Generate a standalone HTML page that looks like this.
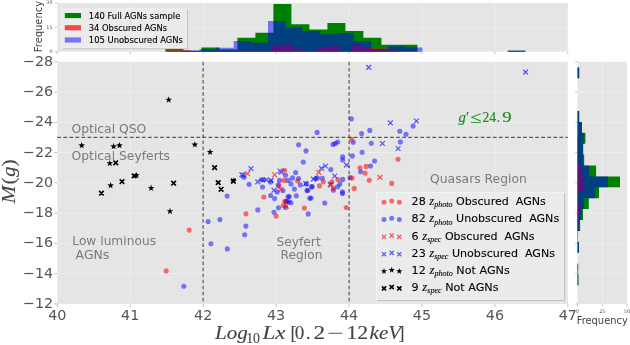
<!DOCTYPE html>
<html lang="en"><head><meta charset="utf-8"><title>AGN luminosity plot</title>
<style>
html,body{margin:0;padding:0;background:#fff;}
body{width:630px;height:345px;overflow:hidden;}
svg{display:block;}
</style></head>
<body>
<svg width="630" height="345" viewBox="0 0 630 345">
<rect x="57.3" y="61.8" width="510.5" height="242.1" fill="#e5e5e5"/>
<rect x="57.3" y="3.0" width="510.5" height="48.7" fill="#e5e5e5"/>
<rect x="577.5" y="61.8" width="49.5" height="242.1" fill="#e5e5e5"/>
<path d="M130.2 61.8V303.9M130.2 3.0V51.7M203.2 61.8V303.9M203.2 3.0V51.7M276.1 61.8V303.9M276.1 3.0V51.7M349.0 61.8V303.9M349.0 3.0V51.7M421.9 61.8V303.9M421.9 3.0V51.7M494.9 61.8V303.9M494.9 3.0V51.7M57.3 92.1H567.8M577.5 92.1H627.0M57.3 122.3H567.8M577.5 122.3H627.0M57.3 152.6H567.8M577.5 152.6H627.0M57.3 182.8H567.8M577.5 182.8H627.0M57.3 213.1H567.8M577.5 213.1H627.0M57.3 243.4H567.8M577.5 243.4H627.0M57.3 273.6H567.8M577.5 273.6H627.0M57.3 27.3H567.8M602.3 61.8V303.9" stroke="#fff" stroke-width="0.7" opacity="0.48" fill="none"/>
<path d="M165.4 51.7V49.0H183.4V50.7H201.4V47.5H219.4V49.4H237.4V37.8H255.4V32.7H273.4V4.0H291.4V24.2H309.4V29.5H327.4V23.1H345.4V31.1H363.4V37.8H381.4V44.7H399.4V44.7H417.4V51.7H435.4V51.7H453.4V51.7H471.4V51.7H489.4V51.7H507.4V50.7H525.4V51.7Z" fill="#008000"/>
<path d="M167.0 51.7V50.3H178.5V50.3H190.1V51.0H201.6V51.0H213.1V51.0H224.7V51.0H236.2V50.8H247.7V50.8H259.2V50.8H270.8V46.3H282.3V44.7H293.8V49.4H305.4V50.9H316.9V47.8H328.4V46.3H339.9V50.9H351.5V45.9H363.0V47.6H374.5V48.5H386.1V49.6H397.6V51.7Z" fill="#ff0000" fill-opacity="0.7"/>
<path d="M182.2 51.7V50.5H199.4V49.3H216.5V47.8H233.7V41.1H250.8V42.7H268.0V21.0H285.2V27.6H302.3V31.1H319.5V34.3H336.6V33.0H353.8V41.0H371.0V49.0H388.1V46.3H405.3V47.5H422.4V51.7H439.6V51.7H456.8V51.7H473.9V51.7H491.1V51.7H508.2V50.5H525.4V51.7Z" fill="#0000ff" fill-opacity="0.5"/>
<path d="M577.5 67.4H579.2V78.3H577.5V89.2H577.5V100.1H577.5V111.0H579.2V121.9H582.0V132.8H585.4V143.7H583.2V154.6H584.2V165.5H596.1V176.4H620.0V187.3H599.0V198.2H588.8V209.1H583.0V220.0H580.1V230.9H577.5V241.8H579.0V252.7H577.5V263.6H578.2V274.5H578.4V285.4H577.5Z" fill="#008000"/>
<path d="M577.5 138.2H578.1V144.8H577.9V151.4H577.9V158.1H578.1V164.7H581.3V171.3H581.3V177.9H584.0V184.5H583.0V191.2H578.2V197.8H578.2V204.4H580.9V211.0H579.4V217.6H578.2V224.3H577.9V230.9H577.9V237.5H577.5V244.1H577.5V250.7H577.5V257.4H577.5V264.0H578.1V270.6H577.5Z" fill="#ff0000" fill-opacity="0.7"/>
<path d="M577.5 67.4H579.2V78.3H577.5V89.2H577.5V100.1H577.5V111.0H579.2V121.9H581.9V132.8H583.8V143.7H583.0V154.6H583.3V165.5H589.1V176.4H608.0V187.3H595.4V198.2H584.2V209.1H581.3V220.0H579.4V230.9H578.1V241.8H579.0V252.7H577.5V263.6H577.5V274.5H578.4V285.4H577.5Z" fill="#0000ff" fill-opacity="0.5"/>
<path d="M57.3 137.3H567.8M203.1 61.8V303.9M349.1 61.8V303.9" stroke="#262626" stroke-width="0.9" stroke-dasharray="3.7 2.35" fill="none"/>
<text x="71.5" y="132.6" font-size="12.3" fill="#7a7a7a" font-family='"DejaVu Sans", "Liberation Sans", sans-serif' textLength="74.8" lengthAdjust="spacingAndGlyphs">Optical QSO</text>
<text x="71.5" y="159.8" font-size="12.3" fill="#7a7a7a" font-family='"DejaVu Sans", "Liberation Sans", sans-serif' textLength="98.5" lengthAdjust="spacingAndGlyphs">Optical Seyferts</text>
<text x="72.3" y="245.3" font-size="12.3" fill="#7a7a7a" font-family='"DejaVu Sans", "Liberation Sans", sans-serif' textLength="83.7" lengthAdjust="spacingAndGlyphs">Low luminous</text>
<text x="75.6" y="259.0" font-size="12.3" fill="#7a7a7a" font-family='"DejaVu Sans", "Liberation Sans", sans-serif' textLength="33.7" lengthAdjust="spacingAndGlyphs">AGNs</text>
<text x="276.5" y="245.6" font-size="12.3" fill="#7a7a7a" font-family='"DejaVu Sans", "Liberation Sans", sans-serif' textLength="44.2" lengthAdjust="spacingAndGlyphs">Seyfert</text>
<text x="280.6" y="258.9" font-size="12.3" fill="#7a7a7a" font-family='"DejaVu Sans", "Liberation Sans", sans-serif' textLength="41.8" lengthAdjust="spacingAndGlyphs">Region</text>
<text x="430.0" y="183.0" font-size="12.3" fill="#7a7a7a" font-family='"DejaVu Sans", "Liberation Sans", sans-serif' textLength="96.9" lengthAdjust="spacingAndGlyphs">Quasars Region</text>
<g fill="#0000ff" fill-opacity="0.5"><circle cx="351.3" cy="118.9" r="2.55"/><circle cx="317.1" cy="132.4" r="2.55"/><circle cx="298.6" cy="144.7" r="2.55"/><circle cx="333.0" cy="144.4" r="2.55"/><circle cx="335.3" cy="143.5" r="2.55"/><circle cx="337.7" cy="142.0" r="2.55"/><circle cx="353.2" cy="142.3" r="2.55"/><circle cx="361.6" cy="133.5" r="2.55"/><circle cx="369.8" cy="130.4" r="2.55"/><circle cx="371.3" cy="143.2" r="2.55"/><circle cx="306.0" cy="150.9" r="2.55"/><circle cx="362.1" cy="152.2" r="2.55"/><circle cx="352.3" cy="155.9" r="2.55"/><circle cx="342.7" cy="156.9" r="2.55"/><circle cx="342.7" cy="160.0" r="2.55"/><circle cx="303.2" cy="162.0" r="2.55"/><circle cx="374.6" cy="161.0" r="2.55"/><circle cx="330.8" cy="169.6" r="2.55"/><circle cx="370.5" cy="166.0" r="2.55"/><circle cx="360.6" cy="171.7" r="2.55"/><circle cx="350.1" cy="177.5" r="2.55"/><circle cx="342.7" cy="179.4" r="2.55"/><circle cx="315.8" cy="178.6" r="2.55"/><circle cx="317.4" cy="177.9" r="2.55"/><circle cx="322.3" cy="178.2" r="2.55"/><circle cx="339.9" cy="183.9" r="2.55"/><circle cx="337.6" cy="186.8" r="2.55"/><circle cx="333.4" cy="190.2" r="2.55"/><circle cx="312.1" cy="186.5" r="2.55"/><circle cx="311.7" cy="186.9" r="2.55"/><circle cx="307.0" cy="190.6" r="2.55"/><circle cx="307.8" cy="190.2" r="2.55"/><circle cx="342.5" cy="191.9" r="2.55"/><circle cx="342.5" cy="193.6" r="2.55"/><circle cx="311.1" cy="198.1" r="2.55"/><circle cx="324.8" cy="203.0" r="2.55"/><circle cx="308.2" cy="213.9" r="2.55"/><circle cx="309.7" cy="198.3" r="2.55"/><circle cx="244.0" cy="177.2" r="2.55"/><circle cx="249.1" cy="184.2" r="2.55"/><circle cx="261.3" cy="179.8" r="2.55"/><circle cx="263.4" cy="179.8" r="2.55"/><circle cx="270.6" cy="181.9" r="2.55"/><circle cx="285.5" cy="175.3" r="2.55"/><circle cx="295.7" cy="172.5" r="2.55"/><circle cx="292.5" cy="177.9" r="2.55"/><circle cx="298.6" cy="178.5" r="2.55"/><circle cx="279.5" cy="180.4" r="2.55"/><circle cx="288.0" cy="180.4" r="2.55"/><circle cx="291.0" cy="183.9" r="2.55"/><circle cx="300.4" cy="184.9" r="2.55"/><circle cx="306.5" cy="183.9" r="2.55"/><circle cx="262.5" cy="187.0" r="2.55"/><circle cx="278.2" cy="184.9" r="2.55"/><circle cx="282.9" cy="190.6" r="2.55"/><circle cx="277.2" cy="191.9" r="2.55"/><circle cx="294.4" cy="189.1" r="2.55"/><circle cx="270.6" cy="195.5" r="2.55"/><circle cx="274.6" cy="198.5" r="2.55"/><circle cx="288.0" cy="196.8" r="2.55"/><circle cx="289.3" cy="196.6" r="2.55"/><circle cx="296.3" cy="195.7" r="2.55"/><circle cx="286.1" cy="201.2" r="2.55"/><circle cx="286.5" cy="201.5" r="2.55"/><circle cx="288.8" cy="201.8" r="2.55"/><circle cx="291.0" cy="202.8" r="2.55"/><circle cx="285.5" cy="207.4" r="2.55"/><circle cx="278.5" cy="207.8" r="2.55"/><circle cx="257.8" cy="209.9" r="2.55"/><circle cx="274.0" cy="212.2" r="2.55"/><circle cx="245.9" cy="226.1" r="2.55"/><circle cx="244.7" cy="234.7" r="2.55"/><circle cx="208.1" cy="221.5" r="2.55"/><circle cx="219.9" cy="219.6" r="2.55"/><circle cx="210.9" cy="243.8" r="2.55"/><circle cx="227.3" cy="248.9" r="2.55"/><circle cx="183.8" cy="286.2" r="2.55"/><circle cx="227.1" cy="196.1" r="2.55"/><circle cx="413.1" cy="126.1" r="2.55"/><circle cx="399.8" cy="131.2" r="2.55"/><circle cx="406.0" cy="134.2" r="2.55"/><circle cx="400.4" cy="141.9" r="2.55"/></g>
<g fill="#ff0000" fill-opacity="0.55"><circle cx="351.7" cy="139.3" r="2.55"/><circle cx="360.0" cy="167.8" r="2.55"/><circle cx="366.1" cy="166.4" r="2.55"/><circle cx="365.1" cy="173.1" r="2.55"/><circle cx="369.3" cy="180.2" r="2.55"/><circle cx="352.0" cy="178.1" r="2.55"/><circle cx="337.9" cy="179.5" r="2.55"/><circle cx="323.3" cy="181.7" r="2.55"/><circle cx="331.9" cy="181.9" r="2.55"/><circle cx="333.4" cy="188.3" r="2.55"/><circle cx="319.5" cy="185.9" r="2.55"/><circle cx="354.2" cy="188.4" r="2.55"/><circle cx="346.2" cy="207.5" r="2.55"/><circle cx="304.4" cy="208.0" r="2.55"/><circle cx="284.6" cy="170.2" r="2.55"/><circle cx="297.6" cy="181.0" r="2.55"/><circle cx="284.2" cy="180.4" r="2.55"/><circle cx="279.1" cy="186.1" r="2.55"/><circle cx="263.8" cy="197.0" r="2.55"/><circle cx="284.8" cy="201.3" r="2.55"/><circle cx="283.3" cy="205.5" r="2.55"/><circle cx="245.9" cy="213.8" r="2.55"/><circle cx="276.2" cy="216.1" r="2.55"/><circle cx="398.0" cy="159.2" r="2.55"/><circle cx="391.7" cy="183.4" r="2.55"/><circle cx="189.2" cy="230.1" r="2.55"/><circle cx="166.2" cy="270.9" r="2.55"/></g>
<path d="M366.30 65.00L371.10 69.80M366.30 69.80L371.10 65.00M523.20 69.70L528.00 74.50M523.20 74.50L528.00 69.70M388.00 120.50L392.80 125.30M388.00 125.30L392.80 120.50M414.00 118.60L418.80 123.40M414.00 123.40L418.80 118.60M380.00 141.10L384.80 145.90M380.00 145.90L384.80 141.10M395.70 146.10L400.50 150.90M395.70 150.90L400.50 146.10M344.20 162.70L349.00 167.50M344.20 167.50L349.00 162.70M323.10 163.60L327.90 168.40M323.10 168.40L327.90 163.60M319.00 165.90L323.80 170.70M319.00 170.70L323.80 165.90M332.30 173.60L337.10 178.40M332.30 178.40L337.10 173.60M311.00 176.70L315.80 181.50M311.00 181.50L315.80 176.70M327.80 181.80L332.60 186.60M327.80 186.60L332.60 181.80M303.40 181.20L308.20 186.00M303.40 186.00L308.20 181.20M248.60 166.30L253.40 171.10M248.60 171.10L253.40 166.30M239.50 172.20L244.30 177.00M239.50 177.00L244.30 172.20M240.80 173.00L245.60 177.80M240.80 177.80L245.60 173.00M255.40 179.50L260.20 184.30M255.40 184.30L260.20 179.50M264.00 177.40L268.80 182.20M264.00 182.20L268.80 177.40M268.70 178.00L273.50 182.80M268.70 182.80L273.50 178.00M278.90 169.70L283.70 174.50M278.90 174.50L283.70 169.70M271.60 187.80L276.40 192.60M271.60 192.60L276.40 187.80M277.60 168.60L282.40 173.40M277.60 173.40L282.40 168.60" stroke="#0000ff" stroke-opacity="0.62" stroke-width="1.3" fill="none"/>
<path d="M245.10 171.30L249.90 176.10M245.10 176.10L249.90 171.30M272.20 172.40L277.00 177.20M272.20 177.20L277.00 172.40M278.40 186.90L283.20 191.70M278.40 191.70L283.20 186.90M284.00 203.80L288.80 208.60M284.00 208.60L288.80 203.80M316.40 170.00L321.20 174.80M316.40 174.80L321.20 170.00M328.40 182.80L333.20 187.60M328.40 187.60L333.20 182.80M377.50 175.00L382.30 179.80M377.50 179.80L382.30 175.00" stroke="#ff0000" stroke-opacity="0.62" stroke-width="1.3" fill="none"/>
<path d="M168.70,96.30L169.52,98.67L172.03,98.72L170.03,100.23L170.76,102.63L168.70,101.20L166.64,102.63L167.37,100.23L165.37,98.72L167.88,98.67ZM81.70,142.00L82.52,144.37L85.03,144.42L83.03,145.93L83.76,148.33L81.70,146.90L79.64,148.33L80.37,145.93L78.37,144.42L80.88,144.37ZM113.60,143.00L114.42,145.37L116.93,145.42L114.93,146.93L115.66,149.33L113.60,147.90L111.54,149.33L112.27,146.93L110.27,145.42L112.78,145.37ZM119.50,142.00L120.32,144.37L122.83,144.42L120.83,145.93L121.56,148.33L119.50,146.90L117.44,148.33L118.17,145.93L116.17,144.42L118.68,144.37ZM194.80,141.20L195.62,143.57L198.13,143.62L196.13,145.13L196.86,147.53L194.80,146.10L192.74,147.53L193.47,145.13L191.47,143.62L193.98,143.57ZM210.10,148.60L210.92,150.97L213.43,151.02L211.43,152.53L212.16,154.93L210.10,153.50L208.04,154.93L208.77,152.53L206.77,151.02L209.28,150.97ZM109.80,159.90L110.62,162.27L113.13,162.32L111.13,163.83L111.86,166.23L109.80,164.80L107.74,166.23L108.47,163.83L106.47,162.32L108.98,162.27ZM136.50,171.90L137.32,174.27L139.83,174.32L137.83,175.83L138.56,178.23L136.50,176.80L134.44,178.23L135.17,175.83L133.17,174.32L135.68,174.27ZM110.60,182.00L111.42,184.37L113.93,184.42L111.93,185.93L112.66,188.33L110.60,186.90L108.54,188.33L109.27,185.93L107.27,184.42L109.78,184.37ZM151.10,184.60L151.92,186.97L154.43,187.02L152.43,188.53L153.16,190.93L151.10,189.50L149.04,190.93L149.77,188.53L147.77,187.02L150.28,186.97ZM170.00,207.80L170.82,210.17L173.33,210.22L171.33,211.73L172.06,214.13L170.00,212.70L167.94,214.13L168.67,211.73L166.67,210.22L169.18,210.17ZM233.50,177.60L234.32,179.97L236.83,180.02L234.83,181.53L235.56,183.93L233.50,182.50L231.44,183.93L232.17,181.53L230.17,180.02L232.68,179.97Z" fill="#000"/>
<path d="M113.40 160.50L118.00 165.10M113.40 165.10L118.00 160.50M212.30 165.30L216.90 169.90M212.30 169.90L216.90 165.30M131.90 173.60L136.50 178.20M131.90 178.20L136.50 173.60M119.70 179.40L124.30 184.00M119.70 184.00L124.30 179.40M99.10 190.90L103.70 195.50M99.10 195.50L103.70 190.90M171.30 180.90L175.90 185.50M171.30 185.50L175.90 180.90M215.90 180.30L220.50 184.90M215.90 184.90L220.50 180.30M218.80 187.00L223.40 191.60M218.80 191.60L223.40 187.00M231.00 178.70L235.60 183.30M231.00 183.30L235.60 178.70" stroke="#000" stroke-width="1.7" fill="none"/>
<g font-size="14.8" font-family='"Liberation Serif", "DejaVu Serif", serif' fill="#1a8c1a" stroke="#1a8c1a" stroke-width="0.15"><text x="458.6" y="122.2"><tspan font-style="italic">g</tspan>′</text><text x="469.9" y="122.6" font-size="17" textLength="11.2" lengthAdjust="spacingAndGlyphs">≤</text><text x="482.4" y="122.2" textLength="13.6" lengthAdjust="spacingAndGlyphs">24</text><text x="496.4" y="122.2">.</text><text x="502.3" y="122.2" textLength="9.4" lengthAdjust="spacingAndGlyphs">9</text></g>
<rect x="377.4" y="193.3" width="187.20000000000005" height="107.39999999999998" fill="#a8a8a8"/>
<rect x="376.4" y="192.3" width="187.20000000000005" height="107.39999999999998" fill="#ebebeb" stroke="#f6f6f6" stroke-width="0.8"/>
<g fill="#ff0000" fill-opacity="0.55"><circle cx="384.0" cy="202.3" r="2.5"/><circle cx="391.7" cy="201.0" r="2.5"/><circle cx="399.3" cy="202.3" r="2.5"/></g>
<g fill="#0000ff" fill-opacity="0.5"><circle cx="384.0" cy="219.6" r="2.5"/><circle cx="391.7" cy="218.3" r="2.5"/><circle cx="399.3" cy="219.6" r="2.5"/></g>
<path d="M381.90 234.80L386.10 239.00M381.90 239.00L386.10 234.80M389.60 233.50L393.80 237.70M389.60 237.70L393.80 233.50M397.20 234.80L401.40 239.00M397.20 239.00L401.40 234.80" stroke="#ff0000" stroke-opacity="0.6" stroke-width="1.3" fill="none"/>
<path d="M381.90 252.10L386.10 256.30M381.90 256.30L386.10 252.10M389.60 250.80L393.80 255.00M389.60 255.00L393.80 250.80M397.20 252.10L401.40 256.30M397.20 256.30L401.40 252.10" stroke="#0000ff" stroke-opacity="0.6" stroke-width="1.3" fill="none"/>
<path d="M384.00,268.00L384.76,270.25L387.14,270.28L385.24,271.70L385.94,273.97L384.00,272.60L382.06,273.97L382.76,271.70L380.86,270.28L383.24,270.25ZM391.70,266.70L392.46,268.95L394.84,268.98L392.94,270.40L393.64,272.67L391.70,271.30L389.76,272.67L390.46,270.40L388.56,268.98L390.94,268.95ZM399.30,268.00L400.06,270.25L402.44,270.28L400.54,271.70L401.24,273.97L399.30,272.60L397.36,273.97L398.06,271.70L396.16,270.28L398.54,270.25Z" fill="#000"/>
<path d="M381.90 286.30L386.10 290.50M381.90 290.50L386.10 286.30M389.60 285.00L393.80 289.20M389.60 289.20L393.80 285.00M397.20 286.30L401.40 290.50M397.20 290.50L401.40 286.30" stroke="#000" stroke-opacity="1" stroke-width="1.7" fill="none"/>
<text x="411.6" y="205.0" font-size="11.2" fill="#000" stroke="#000" stroke-width="0.1" font-family='"DejaVu Sans", "Liberation Sans", sans-serif' textLength="134.3" lengthAdjust="spacingAndGlyphs" xml:space="preserve">28 <tspan font-family='"Liberation Serif", "DejaVu Serif", serif' font-style="italic" font-size="12.9">z</tspan><tspan font-family='"Liberation Serif", "DejaVu Serif", serif' font-style="italic" font-size="8.1" dy="2.2">photo</tspan><tspan dy="-2.2"> Obscured  AGNs</tspan></text>
<text x="411.6" y="222.3" font-size="11.2" fill="#000" stroke="#000" stroke-width="0.1" font-family='"DejaVu Sans", "Liberation Sans", sans-serif' textLength="147.6" lengthAdjust="spacingAndGlyphs" xml:space="preserve">82 <tspan font-family='"Liberation Serif", "DejaVu Serif", serif' font-style="italic" font-size="12.9">z</tspan><tspan font-family='"Liberation Serif", "DejaVu Serif", serif' font-style="italic" font-size="8.1" dy="2.2">photo</tspan><tspan dy="-2.2"> Unobscured  AGNs</tspan></text>
<text x="411.6" y="239.6" font-size="11.2" fill="#000" stroke="#000" stroke-width="0.1" font-family='"DejaVu Sans", "Liberation Sans", sans-serif' textLength="123.0" lengthAdjust="spacingAndGlyphs" xml:space="preserve">6 <tspan font-family='"Liberation Serif", "DejaVu Serif", serif' font-style="italic" font-size="12.9">z</tspan><tspan font-family='"Liberation Serif", "DejaVu Serif", serif' font-style="italic" font-size="8.1" dy="2.2">spec</tspan><tspan dy="-2.2"> Obscured  AGNs</tspan></text>
<text x="411.6" y="256.9" font-size="11.2" fill="#000" stroke="#000" stroke-width="0.1" font-family='"DejaVu Sans", "Liberation Sans", sans-serif' textLength="143.4" lengthAdjust="spacingAndGlyphs" xml:space="preserve">23 <tspan font-family='"Liberation Serif", "DejaVu Serif", serif' font-style="italic" font-size="12.9">z</tspan><tspan font-family='"Liberation Serif", "DejaVu Serif", serif' font-style="italic" font-size="8.1" dy="2.2">spec</tspan><tspan dy="-2.2"> Unobscured  AGNs</tspan></text>
<text x="411.6" y="274.0" font-size="11.2" fill="#000" stroke="#000" stroke-width="0.1" font-family='"DejaVu Sans", "Liberation Sans", sans-serif' textLength="98.2" lengthAdjust="spacingAndGlyphs" xml:space="preserve">12 <tspan font-family='"Liberation Serif", "DejaVu Serif", serif' font-style="italic" font-size="12.9">z</tspan><tspan font-family='"Liberation Serif", "DejaVu Serif", serif' font-style="italic" font-size="8.1" dy="2.2">photo</tspan><tspan dy="-2.2"> Not AGNs</tspan></text>
<text x="411.6" y="291.1" font-size="11.2" fill="#000" stroke="#000" stroke-width="0.1" font-family='"DejaVu Sans", "Liberation Sans", sans-serif' textLength="86.9" lengthAdjust="spacingAndGlyphs" xml:space="preserve">9 <tspan font-family='"Liberation Serif", "DejaVu Serif", serif' font-style="italic" font-size="12.9">z</tspan><tspan font-family='"Liberation Serif", "DejaVu Serif", serif' font-style="italic" font-size="8.1" dy="2.2">spec</tspan><tspan dy="-2.2"> Not AGNs</tspan></text>
<rect x="62.4" y="10.0" width="125.6" height="39.1" fill="#a8a8a8"/>
<rect x="61.4" y="9.0" width="125.6" height="39.1" fill="#ebebeb" stroke="#f6f6f6" stroke-width="0.7"/>
<rect x="64.8" y="13.0" width="16.2" height="5.1" fill="#008000"/>
<rect x="64.8" y="25.2" width="16.2" height="5.1" fill="#ff0000" fill-opacity="0.7"/>
<rect x="64.8" y="37.4" width="16.2" height="5.2" fill="#0000ff" fill-opacity="0.5"/>
<text x="88.8" y="18.7" font-size="8.4" fill="#000" font-family='"DejaVu Sans", "Liberation Sans", sans-serif' stroke="#000" stroke-width="0.12" textLength="91.5" lengthAdjust="spacingAndGlyphs">140 Full AGNs sample</text>
<text x="88.8" y="30.9" font-size="8.4" fill="#000" font-family='"DejaVu Sans", "Liberation Sans", sans-serif' stroke="#000" stroke-width="0.12" textLength="78.2" lengthAdjust="spacingAndGlyphs">34 Obscured AGNs</text>
<text x="88.8" y="43.1" font-size="8.4" fill="#000" font-family='"DejaVu Sans", "Liberation Sans", sans-serif' stroke="#000" stroke-width="0.12" textLength="94.2" lengthAdjust="spacingAndGlyphs">105 Unobscured AGNs</text>
<path d="M57.3 303.9v3.2M130.2 303.9v3.2M203.2 303.9v3.2M276.1 303.9v3.2M349.0 303.9v3.2M421.9 303.9v3.2M494.9 303.9v3.2M567.8 303.9v3.2M57.3 61.8h-3.2M577.5 61.8h-2.2M57.3 92.1h-3.2M577.5 92.1h-2.2M57.3 122.3h-3.2M577.5 122.3h-2.2M57.3 152.6h-3.2M577.5 152.6h-2.2M57.3 182.8h-3.2M577.5 182.8h-2.2M57.3 213.1h-3.2M577.5 213.1h-2.2M57.3 243.4h-3.2M577.5 243.4h-2.2M57.3 273.6h-3.2M577.5 273.6h-2.2M57.3 303.9h-3.2M577.5 303.9h-2.2M57.3 51.7v2.4M130.2 51.7v2.4M203.2 51.7v2.4M276.1 51.7v2.4M349.0 51.7v2.4M421.9 51.7v2.4M494.9 51.7v2.4M567.8 51.7v2.4M57.3 3.0h-2.4M57.3 27.3h-2.4M57.3 51.7h-2.4M577.5 303.9v2.4M602.3 303.9v2.4M627.0 303.9v2.4" stroke="#555555" stroke-width="0.6" opacity="0.6" fill="none"/>
<text x="57.3" y="319.6" font-size="14.3" fill="#555555" font-family='"DejaVu Sans", "Liberation Sans", sans-serif' text-anchor="middle">40</text>
<text x="130.2" y="319.6" font-size="14.3" fill="#555555" font-family='"DejaVu Sans", "Liberation Sans", sans-serif' text-anchor="middle">41</text>
<text x="203.2" y="319.6" font-size="14.3" fill="#555555" font-family='"DejaVu Sans", "Liberation Sans", sans-serif' text-anchor="middle">42</text>
<text x="276.1" y="319.6" font-size="14.3" fill="#555555" font-family='"DejaVu Sans", "Liberation Sans", sans-serif' text-anchor="middle">43</text>
<text x="349.0" y="319.6" font-size="14.3" fill="#555555" font-family='"DejaVu Sans", "Liberation Sans", sans-serif' text-anchor="middle">44</text>
<text x="421.9" y="319.6" font-size="14.3" fill="#555555" font-family='"DejaVu Sans", "Liberation Sans", sans-serif' text-anchor="middle">45</text>
<text x="494.9" y="319.6" font-size="14.3" fill="#555555" font-family='"DejaVu Sans", "Liberation Sans", sans-serif' text-anchor="middle">46</text>
<text x="567.8" y="319.6" font-size="14.3" fill="#555555" font-family='"DejaVu Sans", "Liberation Sans", sans-serif' text-anchor="middle">47</text>
<text x="53.1" y="65.7" font-size="14.3" fill="#555555" font-family='"DejaVu Sans", "Liberation Sans", sans-serif' text-anchor="end">−28</text>
<text x="53.1" y="96.0" font-size="14.3" fill="#555555" font-family='"DejaVu Sans", "Liberation Sans", sans-serif' text-anchor="end">−26</text>
<text x="53.1" y="126.2" font-size="14.3" fill="#555555" font-family='"DejaVu Sans", "Liberation Sans", sans-serif' text-anchor="end">−24</text>
<text x="53.1" y="156.5" font-size="14.3" fill="#555555" font-family='"DejaVu Sans", "Liberation Sans", sans-serif' text-anchor="end">−22</text>
<text x="53.1" y="186.7" font-size="14.3" fill="#555555" font-family='"DejaVu Sans", "Liberation Sans", sans-serif' text-anchor="end">−20</text>
<text x="53.1" y="217.0" font-size="14.3" fill="#555555" font-family='"DejaVu Sans", "Liberation Sans", sans-serif' text-anchor="end">−18</text>
<text x="53.1" y="247.3" font-size="14.3" fill="#555555" font-family='"DejaVu Sans", "Liberation Sans", sans-serif' text-anchor="end">−16</text>
<text x="53.1" y="277.5" font-size="14.3" fill="#555555" font-family='"DejaVu Sans", "Liberation Sans", sans-serif' text-anchor="end">−14</text>
<text x="53.1" y="307.8" font-size="14.3" fill="#555555" font-family='"DejaVu Sans", "Liberation Sans", sans-serif' text-anchor="end">−12</text>
<text x="52.5" y="3.8" font-size="4.9" fill="#555555" font-family='"DejaVu Sans", "Liberation Sans", sans-serif' text-anchor="end">30</text>
<text x="52.5" y="28.9" font-size="4.9" fill="#555555" font-family='"DejaVu Sans", "Liberation Sans", sans-serif' text-anchor="end">15</text>
<text x="52.5" y="53.3" font-size="4.9" fill="#555555" font-family='"DejaVu Sans", "Liberation Sans", sans-serif' text-anchor="end">0</text>
<text x="577.5" y="313.0" font-size="4.9" fill="#555555" font-family='"DejaVu Sans", "Liberation Sans", sans-serif' text-anchor="middle">0</text>
<text x="602.3" y="313.0" font-size="4.9" fill="#555555" font-family='"DejaVu Sans", "Liberation Sans", sans-serif' text-anchor="middle">25</text>
<text x="627.0" y="313.0" font-size="4.9" fill="#555555" font-family='"DejaVu Sans", "Liberation Sans", sans-serif' text-anchor="middle">50</text>
<text transform="translate(41.9,52.2) rotate(-90)" font-size="9.6" fill="#444" font-family='"DejaVu Sans", "Liberation Sans", sans-serif' textLength="51.3" lengthAdjust="spacingAndGlyphs">Frequency</text>
<text x="576.7" y="324.0" font-size="9.6" fill="#444" font-family='"DejaVu Sans", "Liberation Sans", sans-serif' textLength="51.1" lengthAdjust="spacingAndGlyphs">Frequency</text>
<g transform="translate(14.6,203.6) rotate(-90)" font-size="18" font-family='"Liberation Serif", "DejaVu Serif", serif' fill="#444" stroke="#444" stroke-width="0.12"><text x="0" y="0" font-style="italic" textLength="17.9" lengthAdjust="spacingAndGlyphs">M</text><text x="19.0" y="0" textLength="7.2" lengthAdjust="spacingAndGlyphs">(</text><text x="26.6" y="0" font-style="italic" textLength="10.6" lengthAdjust="spacingAndGlyphs">g</text><text x="37.0" y="0" textLength="7.2" lengthAdjust="spacingAndGlyphs">)</text></g>
<text x="215.0" y="339.3" font-size="18.0" fill="#444" stroke="#444" stroke-width="0.12" font-family='"Liberation Serif", "DejaVu Serif", serif' font-style="italic" textLength="32.8" lengthAdjust="spacingAndGlyphs">Log</text>
<text x="246.2" y="343.4" font-size="13.6" fill="#444" stroke="#444" stroke-width="0.12" font-family='"Liberation Serif", "DejaVu Serif", serif' textLength="13.8" lengthAdjust="spacingAndGlyphs">10</text>
<text x="262.4" y="339.3" font-size="18.0" fill="#444" stroke="#444" stroke-width="0.12" font-family='"Liberation Serif", "DejaVu Serif", serif' font-style="italic" textLength="23.0" lengthAdjust="spacingAndGlyphs">Lx</text>
<text x="290.4" y="339.3" font-size="18.0" fill="#444" stroke="#444" stroke-width="0.12" font-family='"Liberation Serif", "DejaVu Serif", serif'>[</text>
<text x="294.7" y="339.3" font-size="18.0" fill="#444" stroke="#444" stroke-width="0.12" font-family='"Liberation Serif", "DejaVu Serif", serif' textLength="9.6" lengthAdjust="spacingAndGlyphs">0</text>
<text x="306.0" y="339.3" font-size="18.0" fill="#444" stroke="#444" stroke-width="0.12" font-family='"Liberation Serif", "DejaVu Serif", serif'>.</text>
<text x="313.6" y="339.3" font-size="18.0" fill="#444" stroke="#444" stroke-width="0.12" font-family='"Liberation Serif", "DejaVu Serif", serif' textLength="11.6" lengthAdjust="spacingAndGlyphs">2</text>
<text x="327.2" y="339.3" font-size="18.0" fill="#444" stroke="#444" stroke-width="0.12" font-family='"Liberation Serif", "DejaVu Serif", serif' textLength="16.3" lengthAdjust="spacingAndGlyphs">−</text>
<text x="346.4" y="339.3" font-size="18.0" fill="#444" stroke="#444" stroke-width="0.12" font-family='"Liberation Serif", "DejaVu Serif", serif' textLength="21.8" lengthAdjust="spacingAndGlyphs">12</text>
<text x="369.6" y="339.3" font-size="18.0" fill="#444" stroke="#444" stroke-width="0.12" font-family='"Liberation Serif", "DejaVu Serif", serif' font-style="italic" textLength="31.6" lengthAdjust="spacingAndGlyphs">keV</text>
<text x="398.4" y="339.3" font-size="18.0" fill="#444" stroke="#444" stroke-width="0.12" font-family='"Liberation Serif", "DejaVu Serif", serif'>]</text>
</svg>
</body></html>
